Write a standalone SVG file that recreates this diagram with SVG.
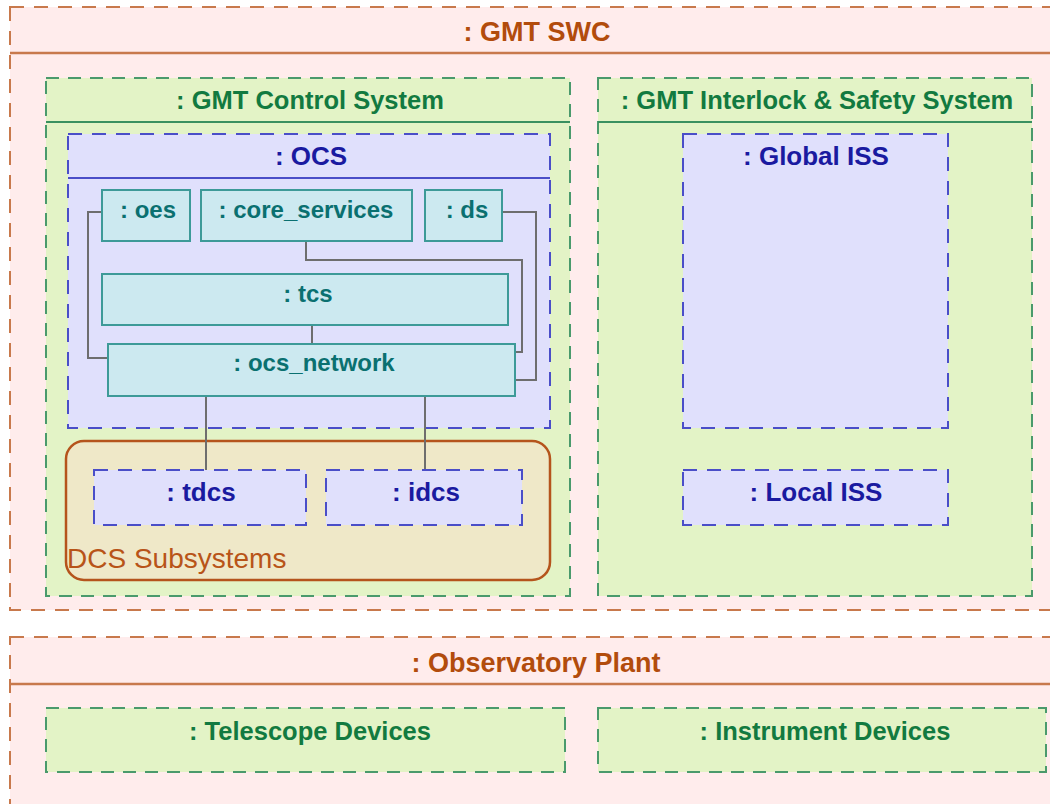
<svg xmlns="http://www.w3.org/2000/svg" width="1050" height="804" viewBox="0 0 1050 804">
<style>
text{font-family:"Liberation Sans",Arial,sans-serif;font-weight:bold;font-size:25.5px;text-anchor:middle}
.pink{fill:#ffecec;stroke:#c8794c;stroke-width:2;stroke-dasharray:14 10}
.pinkline{stroke:#c8794c;stroke-width:2.5}
.pt{fill:#b24c0c;font-size:27px}
.green{fill:#e3f3c6;stroke:#4a9a6c;stroke-width:2;stroke-dasharray:13 9}
.greenline{stroke:#3a9060;stroke-width:2}
.gt{fill:#127a40}
.blue{fill:#e0e0fc;stroke:#4a4ec8;stroke-width:2;stroke-dasharray:14 10}
.blueline{stroke:#4a4ec8;stroke-width:2}
.bt{fill:#1a1aa0;font-size:26px}
.cyan{fill:#cce9f0;stroke:#3d9a98;stroke-width:2}
.ct{fill:#0a7070;font-size:24px}
.conn{fill:none;stroke:#6e6e6e;stroke-width:2}
</style>
<rect width="1050" height="804" fill="#ffffff"/>

<g id="gmt_swc">
<rect class="pink" x="10" y="7" width="1060" height="603"/>
<line class="pinkline" x1="10" y1="53" x2="1050" y2="53"/>
<text class="pt" x="537" y="41">: GMT SWC</text>
</g>

<g id="gmt_control_system">
<rect class="green" x="46" y="78" width="524" height="518"/>
<line class="greenline" x1="46" y1="122" x2="570" y2="122"/>
<text class="gt" x="310" y="109">: GMT Control System</text>
</g>

<g id="ocs">
<rect class="blue" x="68" y="134" width="482" height="294"/>
<line class="blueline" x1="68" y1="178" x2="550" y2="178"/>
<text class="bt" x="311" y="165">: OCS</text>
</g>

<g id="dcs_subsystems">
<rect x="66" y="441" width="484" height="139" rx="18" ry="18" fill="#efe8c8" stroke="#b5541c" stroke-width="2.5"/>
<text x="67" y="568" fill="#b85418" style="font-weight:normal;text-anchor:start;font-size:28px">DCS Subsystems</text>
</g>

<g id="connectors">
<polyline class="conn" points="102,212 88,212 88,358 108,358"/>
<polyline class="conn" points="306,241 306,260 522,260 522,352 515,352"/>
<polyline class="conn" points="502,212 536,212 536,380 515,380"/>
<line class="conn" x1="312" y1="325" x2="312" y2="344"/>
<line class="conn" x1="206" y1="396" x2="206" y2="470"/>
<line class="conn" x1="425" y1="396" x2="425" y2="470"/>
</g>

<g id="oes">
<rect class="cyan" x="102" y="190" width="88" height="51"/>
<text class="ct" x="148" y="218">: oes</text>
</g>
<g id="core_services">
<rect class="cyan" x="201" y="190" width="211" height="51"/>
<text class="ct" x="306" y="218">: core_services</text>
</g>
<g id="ds">
<rect class="cyan" x="425" y="190" width="77" height="51"/>
<text class="ct" x="467" y="218">: ds</text>
</g>
<g id="tcs">
<rect class="cyan" x="102" y="274" width="406" height="51"/>
<text class="ct" x="308" y="302">: tcs</text>
</g>
<g id="ocs_network">
<rect class="cyan" x="108" y="344" width="407" height="52"/>
<text class="ct" x="314" y="371">: ocs_network</text>
</g>

<g id="tdcs">
<rect class="blue" x="94" y="470" width="212" height="55"/>
<text class="bt" x="201" y="501">: tdcs</text>
</g>
<g id="idcs">
<rect class="blue" x="326" y="470" width="196" height="55"/>
<text class="bt" x="426" y="501">: idcs</text>
</g>

<g id="gmt_iss">
<rect class="green" x="598" y="78" width="434" height="518"/>
<line class="greenline" x1="598" y1="122" x2="1032" y2="122"/>
<text class="gt" x="817" y="109">: GMT Interlock &amp; Safety System</text>
</g>
<g id="global_iss">
<rect class="blue" x="683" y="134" width="265" height="294"/>
<text class="bt" x="816" y="165">: Global ISS</text>
</g>
<g id="local_iss">
<rect class="blue" x="683" y="470" width="265" height="55"/>
<text class="bt" x="816" y="501">: Local ISS</text>
</g>

<g id="observatory_plant">
<rect class="pink" x="10" y="637" width="1060" height="180"/>
<line class="pinkline" x1="10" y1="684" x2="1050" y2="684"/>
<text class="pt" x="536" y="672">: Observatory Plant</text>
</g>
<g id="telescope_devices">
<rect class="green" x="46" y="708" width="519" height="64"/>
<text class="gt" x="310" y="740">: Telescope Devices</text>
</g>
<g id="instrument_devices">
<rect class="green" x="598" y="708" width="448" height="64"/>
<text class="gt" x="825" y="740">: Instrument Devices</text>
</g>
</svg>
